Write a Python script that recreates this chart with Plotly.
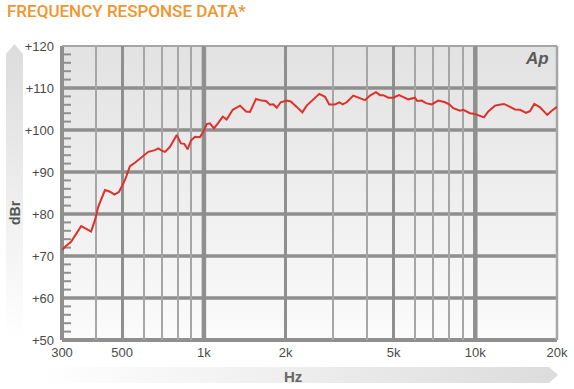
import base64
import plotly.graph_objects as go

# ---- data ----
freq_hz = [300, 308, 324, 353, 370, 384, 397, 408, 432, 451, 468, 487, 512, 534, 557,
           590, 624, 660, 679, 699, 719, 750, 794, 823, 847, 871, 896, 927, 967, 995,
           1024, 1053, 1089, 1130, 1173, 1213, 1277, 1359, 1430, 1479, 1556, 1633, 1694,
           1752, 1802, 1855, 1919, 2019, 2089, 2198, 2305, 2392, 2530, 2662, 2794, 2897,
           3041, 3154, 3246, 3358, 3552, 3706, 3922, 4093, 4306, 4455, 4581, 4780, 4987,
           5234, 5429, 5664, 5995, 6113, 6346, 6581, 6907, 7305, 7732, 8019, 8296, 8781,
           9031, 9559, 9973, 10407, 10766, 11166, 11819, 12258, 12758, 13424, 14006,
           14614, 15377, 15908, 16499, 17315, 18422, 19122, 20000]
level_dbr = [71.4, 72.2, 73.4, 77.1, 76.4, 75.8, 78.6, 81.7, 85.7, 85.3, 84.6, 85.3, 88.1,
             91.4, 92.2, 93.6, 94.8, 95.2, 95.6, 95.1, 94.8, 96.0, 98.8, 96.8, 96.7, 95.4,
             97.5, 98.4, 98.3, 99.6, 101.4, 101.6, 100.4, 101.7, 103.2, 102.5, 104.8, 105.8,
             104.4, 104.3, 107.4, 107.0, 106.9, 106.0, 106.1, 105.3, 106.6, 107.0, 106.8,
             105.5, 104.2, 105.8, 107.3, 108.6, 107.9, 106.1, 106.1, 106.6, 106.1, 106.6,
             108.2, 107.7, 107.1, 108.2, 109.0, 108.3, 108.3, 107.7, 107.7, 108.3, 107.9,
             107.3, 107.7, 106.9, 107.0, 106.4, 106.1, 107.0, 106.6, 106.1, 105.2, 104.6,
             104.8, 104.0, 103.8, 103.3, 103.0, 104.4, 105.8, 106.0, 106.2, 105.5, 104.9,
             104.8, 104.1, 104.5, 106.2, 105.4, 103.6, 104.6, 105.5]

x_tick_vals = [300, 500, 1000, 2000, 5000, 10000, 20000]
x_tick_text = ["300", "500", "1k", "2k", "5k", "10k", "20k"]
x_minor_vals = [400, 600, 700, 800, 900, 3000, 4000, 6000, 7000, 8000, 9000]
x_heavy_vals = [1000, 10000]
y_tick_vals = [50, 60, 70, 80, 90, 100, 110, 120]
y_tick_text = ["+50", "+60", "+70", "+80", "+90", "+100", "+110", "+120"]
y_grid_vals = [60, 70, 80, 90, 100, 110]
y_minor_vals = [v for v in range(52, 120, 2) if v % 10 != 0]

W, H = 574, 389
ML, MR, MT, MB = 62, 17, 46, 49
PW, PH = W - ML - MR, H - MT - MB

GRID = "#8f8f8f"
GRID_MINOR = "#a6a6a6"

# background decoration (plot gradient + axis arrow bands)
svg = f"""<svg xmlns='http://www.w3.org/2000/svg' width='{W}' height='{H}' viewBox='0 0 {W} {H}' preserveAspectRatio='none'>
<defs>
<linearGradient id='pg' x1='0' y1='0' x2='0' y2='1'><stop offset='0' stop-color='#e2e2e2'/><stop offset='1' stop-color='#fbfbfb'/></linearGradient>
<linearGradient id='vg' x1='0' y1='0' x2='0' y2='1'><stop offset='0' stop-color='#dcdcdc'/><stop offset='1' stop-color='#ffffff'/></linearGradient>
<linearGradient id='hg' x1='0' y1='0' x2='1' y2='0'><stop offset='0' stop-color='#ffffff'/><stop offset='1' stop-color='#dcdcdc'/></linearGradient>
</defs>
<rect x='{ML}' y='{MT}' width='{PW}' height='{PH}' fill='url(#pg)'/>
<polygon points='6,54 14.5,44 23,54 23,340 6,340' fill='url(#vg)'/>
<polygon points='40,367 549,367 558,375 549,383 40,383' fill='url(#hg)'/>
</svg>"""
svg_uri = "data:image/svg+xml;base64," + base64.b64encode(svg.encode()).decode()

fig = go.Figure()
fig.add_trace(go.Scatter(
    x=freq_hz, y=level_dbr, mode="lines",
    line=dict(color="#e0302a", width=2),
    hoverinfo="skip", showlegend=False,
))

shapes = []
# horizontal major grid lines
for v in y_grid_vals:
    shapes.append(dict(type="line", xref="paper", yref="y", x0=0, x1=1, y0=v, y1=v,
                       line=dict(color=GRID, width=3.5), layer="below"))
# heavy decade lines
for v in x_heavy_vals:
    shapes.append(dict(type="line", xref="x", yref="paper", x0=v, x1=v, y0=0, y1=1,
                       line=dict(color=GRID, width=4.5), layer="below"))
# small inside ticks on the left axis
for v in y_minor_vals + y_tick_vals[1:]:
    shapes.append(dict(type="line", xref="paper", yref="y", x0=0, x1=9 / PW, y0=v, y1=v,
                       line=dict(color=GRID, width=2), layer="below"))
# frame
shapes.append(dict(type="line", xref="paper", yref="paper", x0=0, x1=0, y0=0, y1=1,
                   line=dict(color=GRID, width=4), layer="below"))
shapes.append(dict(type="line", xref="paper", yref="paper", x0=0, x1=1, y0=0, y1=0,
                   line=dict(color=GRID, width=4), layer="below"))
shapes.append(dict(type="line", xref="paper", yref="paper", x0=0, x1=1, y0=1, y1=1,
                   line=dict(color=GRID_MINOR, width=2), layer="below"))
shapes.append(dict(type="line", xref="paper", yref="paper", x0=1, x1=1, y0=0, y1=1,
                   line=dict(color=GRID_MINOR, width=2.5), layer="below"))

fig.update_layout(
    width=W, height=H,
    margin=dict(l=ML, r=MR, t=MT, b=MB, pad=0),
    paper_bgcolor="white", plot_bgcolor="white",
    font=dict(family="Liberation Sans, Arial, sans-serif", color="#4a4a4a", size=13),
    title=dict(text="FREQUENCY RESPONSE DATA*", x=7 / W, xanchor="left",
               y=1 - 11 / H, yanchor="middle", automargin=False,
               font=dict(family="Roboto, sans-serif", size=17, color="#f0952f", weight=500)),
    images=[dict(source=svg_uri, xref="paper", yref="paper",
                 x=-ML / PW, y=1 + MT / PH, sizex=W / PW, sizey=H / PH,
                 xanchor="left", yanchor="top", sizing="stretch", layer="below")],
    shapes=shapes,
    xaxis=dict(
        type="log", range=[2.47712, 4.30103], automargin=False,
        tickmode="array", tickvals=x_tick_vals, ticktext=x_tick_text,
        showgrid=True, gridcolor=GRID, gridwidth=3,
        ticks="", showline=False, zeroline=False, ticklabelstandoff=3,
        tickfont=dict(size=13, color="#4a4a4a"),
        minor=dict(tickmode="array", tickvals=x_minor_vals, showgrid=True,
                   gridcolor=GRID_MINOR, gridwidth=2, ticks=""),
        fixedrange=True,
    ),
    yaxis=dict(
        range=[50, 120], automargin=False,
        tickmode="array", tickvals=y_tick_vals, ticktext=y_tick_text,
        showgrid=False, ticks="",
        showline=False, zeroline=False, ticklabelstandoff=7,
        tickfont=dict(size=13, color="#4a4a4a"),
        fixedrange=True,
    ),
    annotations=[
        dict(text="<b>dBr</b>", xref="paper", yref="paper", x=-47 / PW, y=(340 - 213) / PH,
             textangle=-90, showarrow=False, font=dict(size=14, color="#555555"),
             xanchor="center", yanchor="middle"),
        dict(text="<b>Hz</b>", xref="paper", yref="paper", x=(293 - ML) / PW, y=(340 - 376) / PH,
             showarrow=False, font=dict(size=15, color="#666666"),
             xanchor="center", yanchor="middle"),
        dict(text="<b><i>Ap</i></b>", xref="paper", yref="paper", x=(551 - ML) / PW,
             y=(340 - 58) / PH, showarrow=False, font=dict(size=17, color="#5a5a5a"),
             xanchor="right", yanchor="middle"),
    ],
)

fig.write_html("out.html", config={"displayModeBar": False},
               post_script="document.body.style.margin='0';")
